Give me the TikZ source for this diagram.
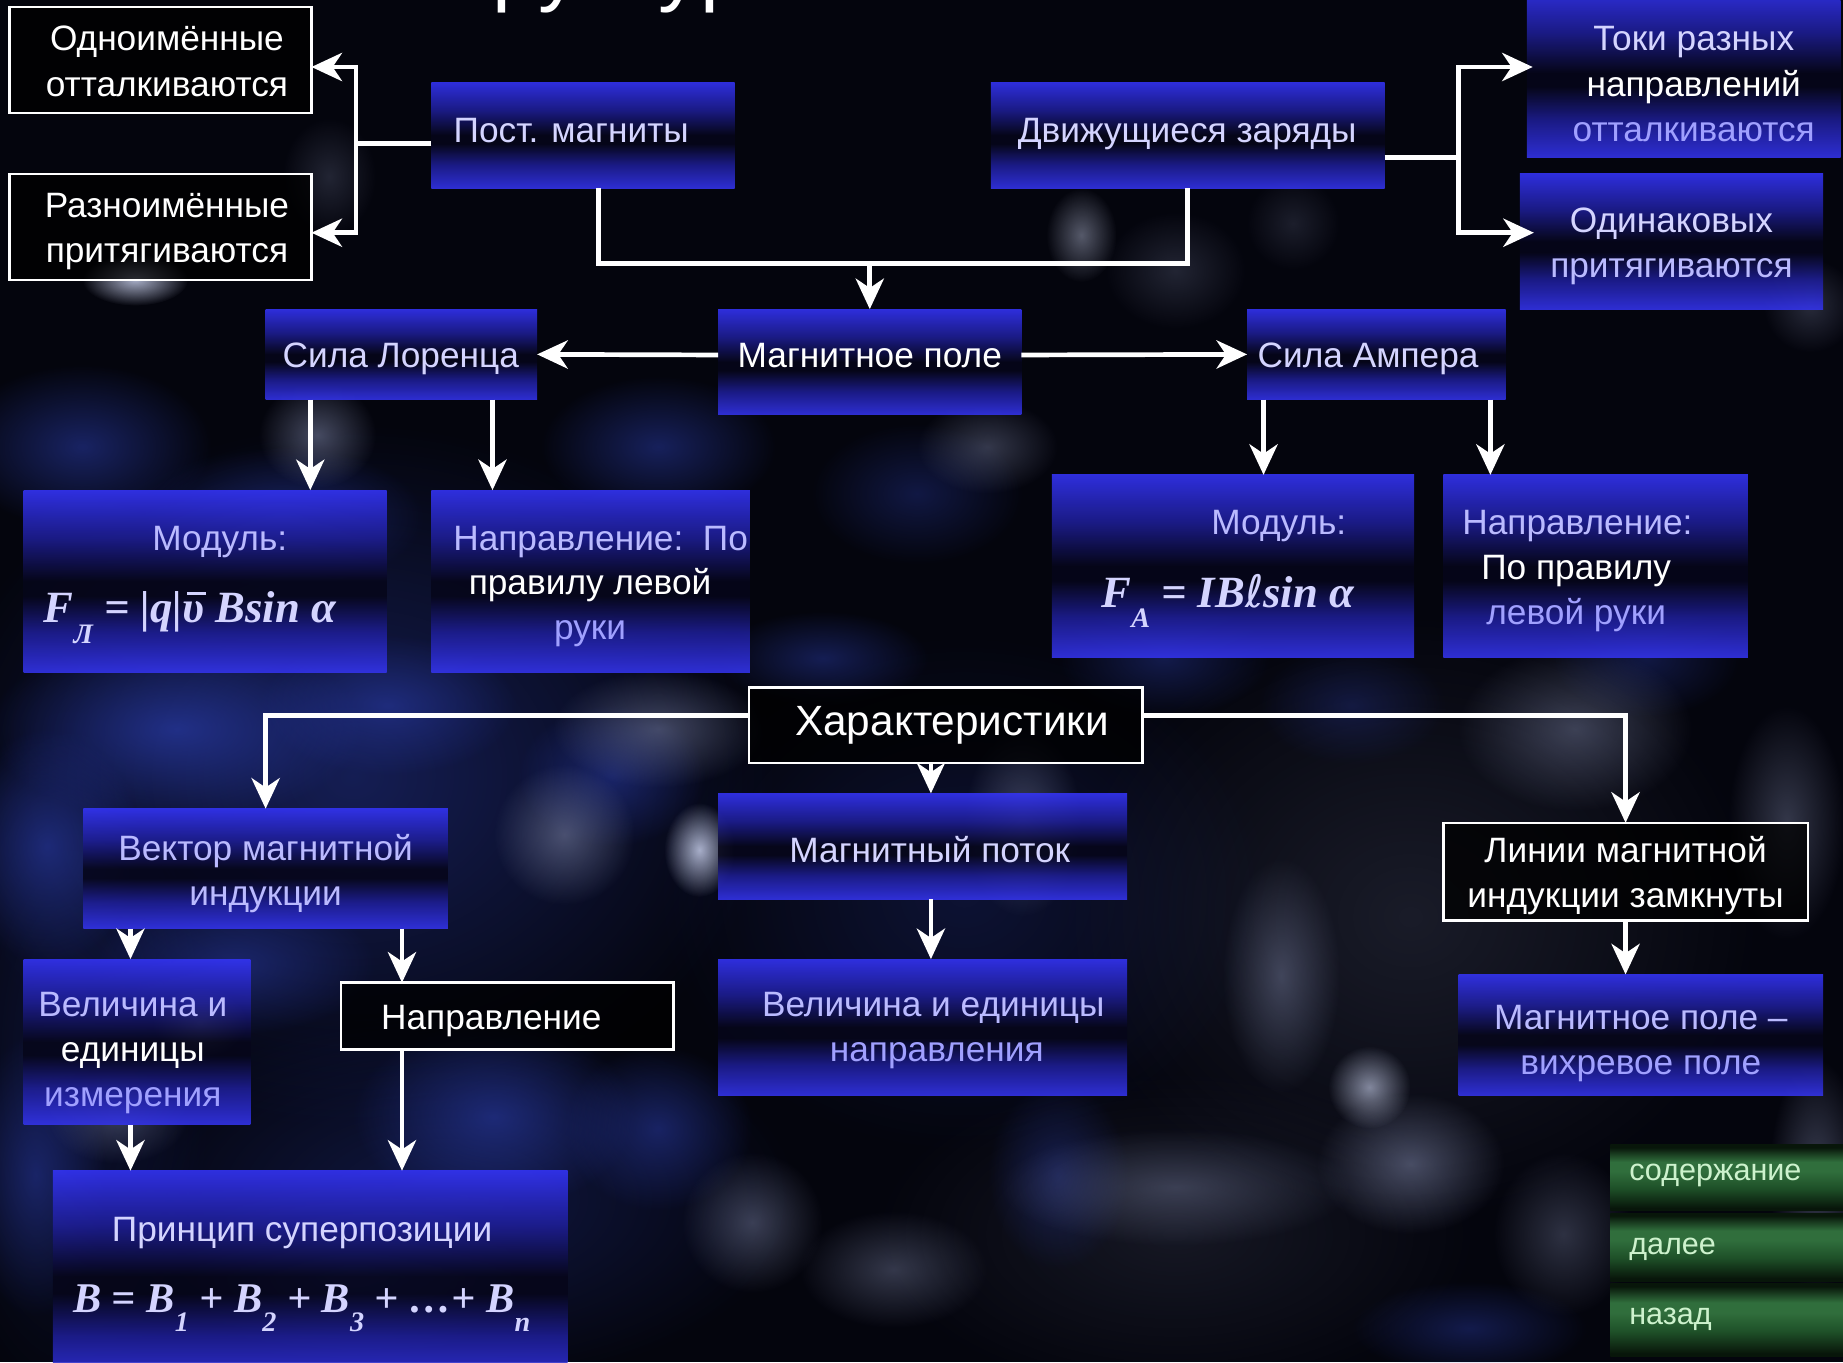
\documentclass[tikz,border=0pt]{standalone}
\usepackage{fontspec}
\setmainfont{Liberation Sans}
\newfontfamily\tnr{Liberation Serif}
\newfontfamily\dvsans{DejaVu Sans}
\usetikzlibrary{arrows.meta,fadings}
\definecolor{bgc}{RGB}{4,5,13}
\definecolor{bxt}{RGB}{52,52,248}
\definecolor{bx2}{RGB}{30,30,150}
\definecolor{bxd}{RGB}{6,6,26}
\definecolor{bxb}{RGB}{52,52,238}
\definecolor{gd}{RGB}{8,22,10}
\definecolor{gm}{RGB}{30,80,40}
\definecolor{gl}{RGB}{48,110,60}
\definecolor{bl}{RGB}{42,60,170}
\definecolor{gr}{RGB}{124,132,166}
\definecolor{wh}{RGB}{208,216,245}
\definecolor{tl}{RGB}{212,212,255}
\definecolor{tm}{RGB}{186,186,255}
\definecolor{tb}{RGB}{160,160,255}
\definecolor{tg}{RGB}{205,242,205}
\pgfdeclareverticalshading{bluebox}{100bp}{color(0bp)=(bxb); color(25bp)=(bxb); color(36bp)=(bx2); color(46bp)=(bxd); color(50bp)=(bxd); color(62bp)=(bx2); color(75bp)=(bxt); color(100bp)=(bxt)}
\pgfdeclareverticalshading{greenbtn}{100bp}{color(0bp)=(gd); color(27bp)=(gd); color(42bp)=(gm); color(55bp)=(gl); color(62bp)=(gl); color(73bp)=(gd); color(100bp)=(gd)}
\tikzfading[name=fz, inner color=transparent!0, outer color=transparent!100]
\newcommand\blob[5]{\fill[#1, path fading=fz, fill opacity=#2] (#3) ellipse (#4 and #5);}
\newcommand\tx[5]{\node[#4] (#1) at (#2,#3) {#5};}
\newcommand\vecv{\makebox[0pt][l]{\hspace{0.1em}\raisebox{0.62em}{\rule{0.42em}{0.07em}}}υ}
\newcommand\sbs[1]{\raisebox{-0.45em}{\fontsize{24}{24}\selectfont #1}}
\begin{document}
\begin{tikzpicture}[x=1pt,y=-1pt,
  bx/.style={shade, shading=bluebox, fill opacity=0.88, inner sep=0pt, outer sep=0pt, anchor=north west},
  kb/.style={fill=black, fill opacity=0.75, draw=white, draw opacity=1, line width=2pt, inner sep=0pt, outer sep=0pt, anchor=north west},
  gb/.style={shade, shading=greenbtn, inner sep=0pt, outer sep=0pt, anchor=north west},
  ln/.style={draw=white, line width=4pt},
  arr/.style={draw=white, line width=4pt, -{Stealth[length=26pt,width=24pt,inset=8pt]}},
  t/.style={font=\fontsize{30}{36}\selectfont, anchor=base, inner sep=0pt, text=#1},
  t/.default=white,
  th/.style={font=\fontsize{36}{42}\selectfont, anchor=base, inner sep=0pt, text=white},
  tbt/.style={font=\fontsize{26}{30}\selectfont, anchor=base west, inner sep=0pt, text=tg},
  fm/.style={font=\fontsize{38}{44}\selectfont\tnr\bfseries\itshape, anchor=base west, inner sep=0pt, text=tl}
]
\clip (0,0) rectangle (1568,1159);
\useasboundingbox (0,0) rectangle (1568,1159);
\fill[bgc] (0,0) rectangle (1568,1159);
% broad haze
\blob{bl}{0.45}{300,660}{360}{300}
\blob{bl}{0.35}{380,1020}{300}{160}
\blob{bl}{0.25}{820,760}{260}{220}
\blob{gr}{0.18}{1200,780}{300}{260}
\blob{gr}{0.15}{1000,1050}{260}{140}
\blob{bl}{0.25}{60,900}{120}{300}
% background blobs
\blob{bl}{0.55}{70,380}{110}{70}
\blob{bl}{0.5}{240,440}{120}{60}
\blob{bl}{0.5}{560,380}{100}{60}
\blob{bl}{0.35}{780,420}{90}{60}
\blob{bl}{0.7}{150,620}{160}{80}
\blob{bl}{0.6}{40,720}{80}{100}
\blob{bl}{0.55}{330,600}{110}{60}
\blob{bl}{0.5}{520,660}{80}{60}
\blob{bl}{0.45}{700,560}{90}{40}
\blob{bl}{0.5}{200,820}{120}{60}
\blob{bl}{0.6}{420,950}{120}{80}
\blob{bl}{0.5}{560,960}{80}{70}
\blob{bl}{0.5}{300,1080}{140}{80}
\blob{bl}{0.5}{30,1000}{60}{120}
\blob{bl}{0.4}{990,560}{90}{50}
\blob{bl}{0.3}{1150,600}{80}{50}
\blob{bl}{0.4}{900,1000}{60}{80}
\blob{bl}{0.4}{1250,1130}{100}{40}
\blob{bl}{0.35}{1400,560}{80}{50}
\blob{gr}{0.55}{270,370}{50}{45}
\blob{gr}{0.5}{560,620}{90}{50}
\blob{gr}{0.55}{480,710}{60}{60}
\blob{gr}{0.45}{870,700}{50}{80}
\blob{gr}{0.45}{1090,830}{50}{100}
\blob{gr}{0.4}{1000,1010}{150}{50}
\blob{gr}{0.55}{1200,990}{80}{60}
\blob{gr}{0.45}{1340,620}{100}{70}
\blob{gr}{0.4}{1520,700}{50}{100}
\blob{gr}{0.4}{760,1080}{80}{50}
\blob{gr}{0.35}{1330,1050}{60}{70}
\blob{gr}{0.45}{640,1040}{60}{60}
\blob{gr}{0.4}{100,950}{60}{40}
\blob{gr}{0.45}{1545,1000}{40}{100}
\blob{gr}{0.4}{840,380}{60}{40}
\blob{gr}{0.25}{280,150}{40}{50}
\blob{gr}{0.25}{1000,230}{60}{50}
\blob{gr}{0.2}{1100,190}{40}{40}
\blob{gr}{0.3}{1540,260}{40}{40}
\blob{wh}{0.8}{115,238}{45}{22}
\blob{wh}{0.8}{595,723}{30}{40}
\blob{wh}{0.6}{1165,925}{35}{35}
\blob{wh}{0.5}{170,870}{40}{30}
\blob{wh}{0.4}{920,200}{30}{40}
% title fragment
\node[font=\fontsize{72}{80}\selectfont, anchor=base west, inner sep=0pt, text=white] (title) at (334,-4) {Структура};
% boxes
\node[kb, minimum width=257pt, minimum height=90pt] (odn) at (8,6) {};
\node[kb, minimum width=257pt, minimum height=90pt] (raz) at (8,148) {};
\node[bx, minimum width=258pt, minimum height=90pt] (pm) at (367,70) {};
\node[bx, minimum width=335pt, minimum height=90pt] (dz) at (843,70) {};
\node[bx, minimum width=267pt, minimum height=144pt] (toki) at (1299,-10) {};
\node[bx, minimum width=258pt, minimum height=115pt] (odin) at (1293,148) {};
\node[bx, minimum width=258pt, minimum height=90pt] (mp) at (611,263) {};
\node[bx, minimum width=231pt, minimum height=77pt] (lor) at (226,263) {};
\node[bx, minimum width=220pt, minimum height=77pt] (amp) at (1061,263) {};
\node[bx, minimum width=309pt, minimum height=155pt] (mod1) at (20,417) {};
\node[bx, minimum width=271pt, minimum height=155pt] (napr1) at (367,417) {};
\node[bx, minimum width=308pt, minimum height=155pt] (mod2) at (895,404) {};
\node[bx, minimum width=259pt, minimum height=155pt] (napr2) at (1228,404) {};
\node[kb, minimum width=335pt, minimum height=64pt] (har) at (637,585) {};
\node[bx, minimum width=348pt, minimum height=90pt] (mpot) at (611,675) {};
\node[bx, minimum width=348pt, minimum height=116pt] (vel2) at (611,816) {};
\node[kb, minimum width=310pt, minimum height=83pt] (lin) at (1228,700) {};
\node[bx, minimum width=310pt, minimum height=103pt] (vih) at (1241,829) {};
\node[bx, minimum width=310pt, minimum height=102pt] (vek) at (71,688) {};
\node[bx, minimum width=193pt, minimum height=141pt] (vel1) at (20,816) {};
\node[kb, minimum width=283pt, minimum height=57pt] (napr3) at (290,836) {};
\node[bx, minimum width=438pt, minimum height=180pt] (prin) at (45,996) {};
\node[gb, minimum width=198pt, minimum height=56pt] (btn1) at (1370,974) {};
\node[gb, minimum width=198pt, minimum height=58pt] (btn2) at (1370,1032) {};
\node[gb, minimum width=198pt, minimum height=62pt] (btn3) at (1370,1092) {};
% texts
\tx{odn1}{142}{43}{t}{Одноимённые}
\tx{odn2}{142}{82}{t}{отталкиваются}
\tx{raz1}{142}{185}{t}{Разноимённые}
\tx{raz2}{142}{223}{t}{притягиваются}
\tx{pm1}{486}{121}{t=tl}{Пост. магниты}
\tx{dz1}{1010}{121}{t=tl}{Движущиеся заряды}
\tx{toki1}{1441}{43}{t=tl}{Токи разных}
\tx{toki2}{1441}{82}{t}{направлений}
\tx{toki3}{1441}{120}{t=tb}{отталкиваются}
\tx{odin1}{1422}{198}{t=tl}{Одинаковых}
\tx{odin2}{1422}{236}{t=tm}{притягиваются}
\tx{mp1}{740}{313}{t}{Магнитное поле}
\tx{lor1}{341}{313}{t=tl}{Сила Лоренца}
\tx{amp1}{1164}{313}{t=tl}{Сила Ампера}
\tx{mod1a}{187}{468}{t=tm}{Модуль:}
\node[fm] (mod1f) at (37,530) {F\sbs{Л} = |q|\vecv\ Bsin\ α};
\tx{nap1a}{511}{468}{t=tm}{Направление:\ \ По}
\tx{nap1b}{502}{506}{t}{правилу левой}
\tx{nap1c}{502}{544}{t=tb}{руки}
\tx{mod2a}{1088}{455}{t=tm}{Модуль:}
\node[fm] (mod2f) at (937,517) {F\sbs{A} = IB{\dvsans\mdseries\upshape ℓ}sin α};
\tx{nap2a}{1342}{455}{t=tm}{Направление:}
\tx{nap2b}{1341}{493}{t}{По правилу}
\tx{nap2c}{1341}{531}{t=tb}{левой руки}
\tx{har1}{810}{626}{th}{Характеристики}
\tx{mpot1}{791}{734}{t=tl}{Магнитный поток}
\tx{vel2a}{794}{865}{t=tm}{Величина и единицы}
\tx{vel2b}{797}{903}{t=tb}{направления}
\tx{lin1}{1383}{734}{t}{Линии магнитной}
\tx{lin2}{1383}{772}{t}{индукции замкнуты}
\tx{vih1}{1396}{876}{t=tm}{Магнитное поле –}
\tx{vih2}{1396}{914}{t=tb}{вихревое поле}
\tx{vek1}{226}{732}{t=tm}{Вектор магнитной}
\tx{vek2}{226}{770}{t=tm}{индукции}
\tx{vel1a}{113}{865}{t=tm}{Величина и}
\tx{vel1b}{113}{903}{t}{единицы}
\tx{vel1c}{113}{941}{t=tb}{измерения}
\tx{nap3}{418}{876}{t}{Направление}
\tx{prin1}{257}{1056}{t=tl}{Принцип суперпозиции}
\node[fm, font=\fontsize{36}{42}\selectfont\tnr\bfseries\itshape] (prinf) at (62,1117) {B = B\sbs{1} + B\sbs{2} + B\sbs{3} + …+ B\sbs{n}};
\tx{bt1}{1386}{1004}{tbt}{содержание}
\tx{bt2}{1386}{1067}{tbt}{далее}
\tx{bt3}{1386}{1127}{tbt}{назад}
% connectors
\coordinate (b1) at (303,122);
\draw[ln] ([yshift=-7pt]pm.west) -- (b1);
\draw[arr] (b1) |- ([yshift=-6pt]odn.east);
\draw[arr] (b1) |- ([yshift=-5pt]raz.east);
\coordinate (b2) at (740,224);
\draw[ln] ([xshift=13pt]pm.south) |- (b2) -| (dz.south);
\draw[arr] (b2) -- (mp.north);
\coordinate (b3) at (1241,134);
\draw[ln] ([yshift=-19pt]dz.east) -- (b3);
\draw[arr, shorten >=-5pt] (b3) |- ([yshift=5pt]toki.west);
\draw[arr, shorten >=-12pt] (b3) |- ([yshift=7.5pt]odin.west);
\draw[arr] ([yshift=6pt]mp.west) -- (lor.east);
\draw[arr] ([yshift=6pt]mp.east) -- (amp.west);
\coordinate (l1) at ([xshift=-77.5pt]lor.south);
\coordinate (l2) at ([xshift=77.5pt]lor.south);
\draw[arr] (l1) -- (l1 |- mod1.north);
\draw[arr] (l2) -- (l2 |- napr1.north);
\coordinate (a1) at ([xshift=-96pt]amp.south);
\coordinate (a2) at ([xshift=97pt]amp.south);
\draw[arr] (a1) -- (a1 |- mod2.north);
\draw[arr] (a2) -- (a2 |- napr2.north);
\draw[arr] ([yshift=8pt]har.west) -| (vek.north);
\draw[arr] ([yshift=8pt]har.east) -| (lin.north);
\coordinate (h1) at ([xshift=-12.5pt]har.south);
\draw[arr] (h1) -- (h1 |- mpot.north);
\coordinate (m1) at ([xshift=7pt]mpot.south);
\draw[arr] (m1) -- (m1 |- vel2.north);
\coordinate (v1) at ([xshift=-115pt]vek.south);
\coordinate (v2) at ([xshift=116pt]vek.south);
\draw[arr] (v1) -- (v1 |- vel1.north);
\draw[arr] (v2) -- (v2 |- napr3.north);
\coordinate (e1) at ([xshift=-5.5pt]vel1.south);
\draw[arr] (e1) -- (e1 |- prin.north);
\coordinate (n1) at ([xshift=-89.5pt]napr3.south);
\draw[arr] (n1) -- (n1 |- prin.north);
\draw[arr] (lin.south) -- (lin.south |- vih.north);
\end{tikzpicture}
\end{document}
